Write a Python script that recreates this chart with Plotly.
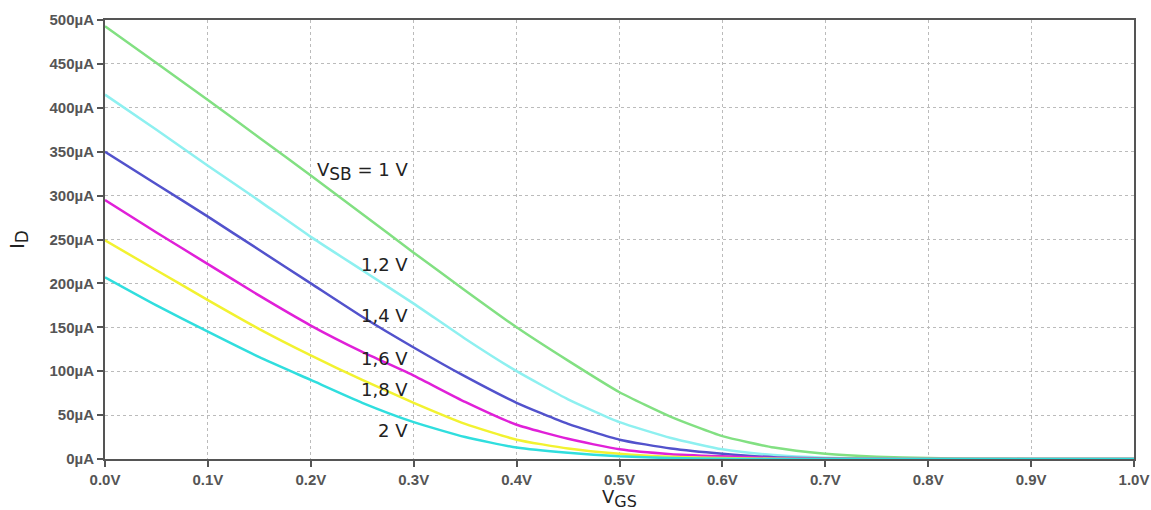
import plotly.graph_objects as go

vgs = [0.0, 0.05, 0.1, 0.15, 0.2, 0.25, 0.3, 0.35, 0.4, 0.45, 0.5,
       0.55, 0.6, 0.65, 0.7, 0.75, 0.8, 0.85, 0.9, 0.95, 1.0]

id_vsb_1_0 = [493, 451, 409, 366, 323, 279, 235, 192, 150, 112, 76, 48, 26, 13, 6, 2.5, 1, 0.3, 0.1, 0, 0]
id_vsb_1_2 = [415, 375, 334, 294, 253, 215, 177, 137, 100, 68, 42, 24, 11, 4.5, 1.5, 0.5, 0.1, 0, 0, 0, 0]
id_vsb_1_4 = [350, 313, 276, 238, 200, 162, 127, 94, 64, 40, 22, 12, 6, 2, 0.7, 0.2, 0, 0, 0, 0, 0]
id_vsb_1_6 = [295, 258, 222, 186, 152, 122, 95, 65, 39, 23, 11, 5.5, 3, 1, 0.3, 0, 0, 0, 0, 0, 0]
id_vsb_1_8 = [249, 215, 181, 148, 118, 90, 64, 40, 22, 12, 6, 2.5, 1, 0.3, 0, 0, 0, 0, 0, 0, 0]
id_vsb_2_0 = [207, 175, 145, 116, 90, 64, 42, 25, 13, 7, 3, 1, 0.3, 0, 0, 0, 0, 0, 0, 0, 0]

series = [
    ("VSB = 1 V", id_vsb_1_0, "#82e082"),
    ("1,2 V", id_vsb_1_2, "#8ef0f0"),
    ("1,4 V", id_vsb_1_4, "#5252cc"),
    ("1,6 V", id_vsb_1_6, "#e020d8"),
    ("1,8 V", id_vsb_1_8, "#f2f230"),
    ("2 V", id_vsb_2_0, "#30dede"),
]

sub_style = 'style="font-size:17px"'
labels = [f"V<sub><span {sub_style}>SB</span></sub> = 1 V", "1,2 V", "1,4 V", "1,6 V", "1,8 V", "2 V"]
label_y = [327, 221, 164, 115, 79, 33]
label_x = 0.296

fig = go.Figure()
for name, ys, col in series:
    fig.add_trace(go.Scatter(x=vgs, y=ys, mode="lines", name=name,
                             line=dict(color=col, width=2.5, shape="spline", smoothing=0.5),
                             showlegend=False))

for txt, ly in zip(labels, label_y):
    fig.add_annotation(x=label_x, y=ly, xref="x", yref="y", text=txt,
                       showarrow=False, xanchor="right", yanchor="middle",
                       font=dict(family="DejaVu Sans", size=18, color="#222"))

# x-axis title as annotation (placed below tick labels)
fig.add_annotation(x=0.5, y=-0.089, xref="paper", yref="paper",
                   text='V<sub><span style="font-size:16px">GS</span></sub>',
                   showarrow=False, xanchor="center", yanchor="middle",
                   font=dict(family="DejaVu Sans", size=18, color="#222"))

axis_common = dict(
    showline=True, linecolor="#555", linewidth=2, mirror=True,
    showgrid=True, gridcolor="#bbbbbb", griddash="dot", gridwidth=1,
    ticks="outside", ticklen=6, tickwidth=2, tickcolor="#555",
    tickfont=dict(family="Liberation Sans", size=15, color="#555", weight="bold"),
    zeroline=False, automargin=False,
)

fig.update_xaxes(range=[0, 1], dtick=0.1, tickformat=".1f", ticksuffix="V",
                 **axis_common)
fig.update_yaxes(range=[0, 500], dtick=50, ticksuffix="µA",
                 title=dict(text=f"I<sub><span {sub_style}>D</span></sub>", standoff=20,
                            font=dict(family="DejaVu Sans", size=19, color="#222")),
                 **axis_common)

fig.update_layout(
    width=1151, height=510,
    margin=dict(l=105, r=17, t=20, b=51),
    plot_bgcolor="white", paper_bgcolor="white",
)

fig.write_html("out.html")
